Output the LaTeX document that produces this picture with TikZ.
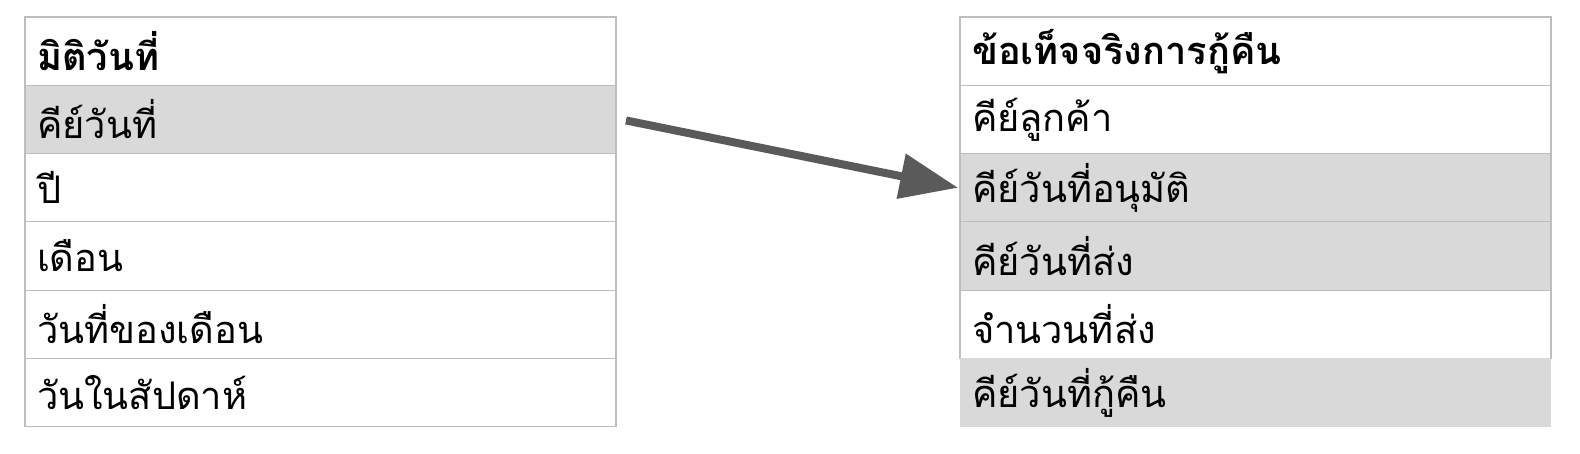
\documentclass[tikz,border=0pt]{standalone}
\usepackage{fontspec}
\newfontfamily\thaifont[Script=Thai]{Loma}
\usetikzlibrary{arrows.meta}
\definecolor{rowgrey}{HTML}{D9D9D9}
\definecolor{gridline}{HTML}{BDBDBD}
\definecolor{arrowgrey}{HTML}{5A5A5A}
\tikzset{
  cell/.style={draw=gridline, line width=1.2pt, minimum width=591pt, minimum height=68.3pt,
    inner sep=0pt, outer sep=0pt, anchor=north west, text width=567pt, align=left,
    font=\thaifont\fontsize{38}{44}\selectfont},
  head/.style={cell, fill=white, font=\thaifont\bfseries\fontsize{38}{44}\selectfont},
  plain/.style={cell, fill=white},
  key/.style={cell, fill=rowgrey},
  link/.style={draw=arrowgrey, line width=8pt, -{Triangle[length=58pt,width=44pt]}}
}
\begin{document}
\begin{tikzpicture}[x=1pt,y=-1pt]
\useasboundingbox (0,0) rectangle (1580,454);
\fill[white] (0,0) rectangle (1580,454);
% left table
\node[head]  (l0) at (25,17)    {มิติวันที่};
\node[key]   (l1) at (25,85.3)  {คีย์วันที่};
\node[plain] (l2) at (25,153.6) {ปี};
\node[plain] (l3) at (25,221.9) {เดือน};
\node[plain] (l4) at (25,290.2) {วันที่ของเดือน};
\node[plain] (l5) at (25,358.5) {วันในสัปดาห์};
% right table
\node[head]  (r0) at (960,17)    {ข้อเท็จจริงการกู้คืน};
\node[plain] (r1) at (960,85.3)  {คีย์ลูกค้า};
\node[key]   (r2) at (960,153.6) {คีย์วันที่อนุมัติ};
\node[key]   (r3) at (960,221.9) {คีย์วันที่ส่ง};
\node[plain] (r4) at (960,290.2) {จำนวนที่ส่ง};
\node[key, draw=none] (r5) at (960,358.5) {คีย์วันที่กู้คืน};
% connector
\coordinate (start) at ([xshift=10pt,yshift=-1pt]l1.east);
\draw[link] (start) -- ([xshift=-2pt]r2.west);
\end{tikzpicture}
\end{document}
